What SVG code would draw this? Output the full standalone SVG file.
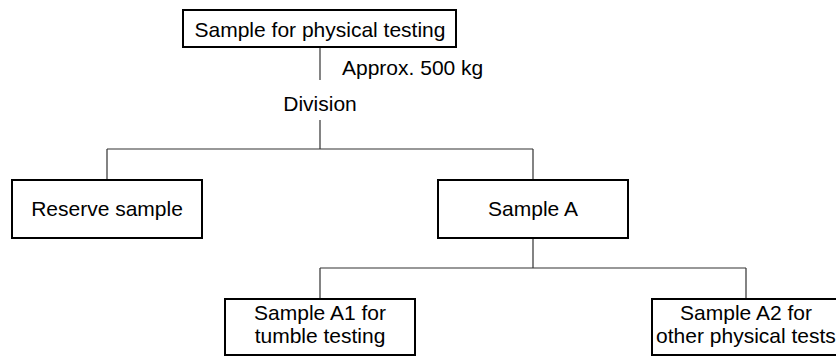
<svg xmlns="http://www.w3.org/2000/svg" width="836" height="356" viewBox="0 0 836 356">
<style>
.box{fill:#fff;stroke:#000;stroke-width:2}
.t{font-family:"Liberation Sans",Arial,sans-serif;font-size:21px;fill:#000}
.c{text-anchor:middle}
.ln{fill:none;stroke:#333;stroke-width:1.2}
</style>
<rect width="836" height="356" fill="#fff"/>
<g id="connectors">
<path class="ln" d="M320 48V80"/>
<path class="ln" d="M320 120V149M107 149H533M107 149V180M533 149V180"/>
<path class="ln" d="M533 238V268M320 268H746M320 268V299M746 268V299"/>
</g>
<g id="labels">
<text class="t" x="342" y="75">Approx. 500 kg</text>
<text class="t c" x="320" y="111">Division</text>
</g>
<g id="top">
<rect class="box" x="183" y="10" width="273" height="37"/>
<text class="t c" x="320" y="37">Sample for physical testing</text>
</g>
<g id="reserve">
<rect class="box" x="12" y="180" width="190" height="58"/>
<text class="t c" x="107" y="216">Reserve sample</text>
</g>
<g id="sampleA">
<rect class="box" x="438" y="180" width="190" height="58"/>
<text class="t c" x="533" y="216">Sample A</text>
</g>
<g id="sampleA1">
<rect class="box" x="225" y="299" width="190" height="56"/>
<text class="t c" x="320" y="320">Sample A1 for</text>
<text class="t c" x="320" y="343">tumble testing</text>
</g>
<g id="sampleA2">
<rect class="box" x="652" y="299" width="190" height="56"/>
<text class="t c" x="746" y="320">Sample A2 for</text>
<text class="t c" x="746" y="343">other physical tests</text>
</g>
</svg>
